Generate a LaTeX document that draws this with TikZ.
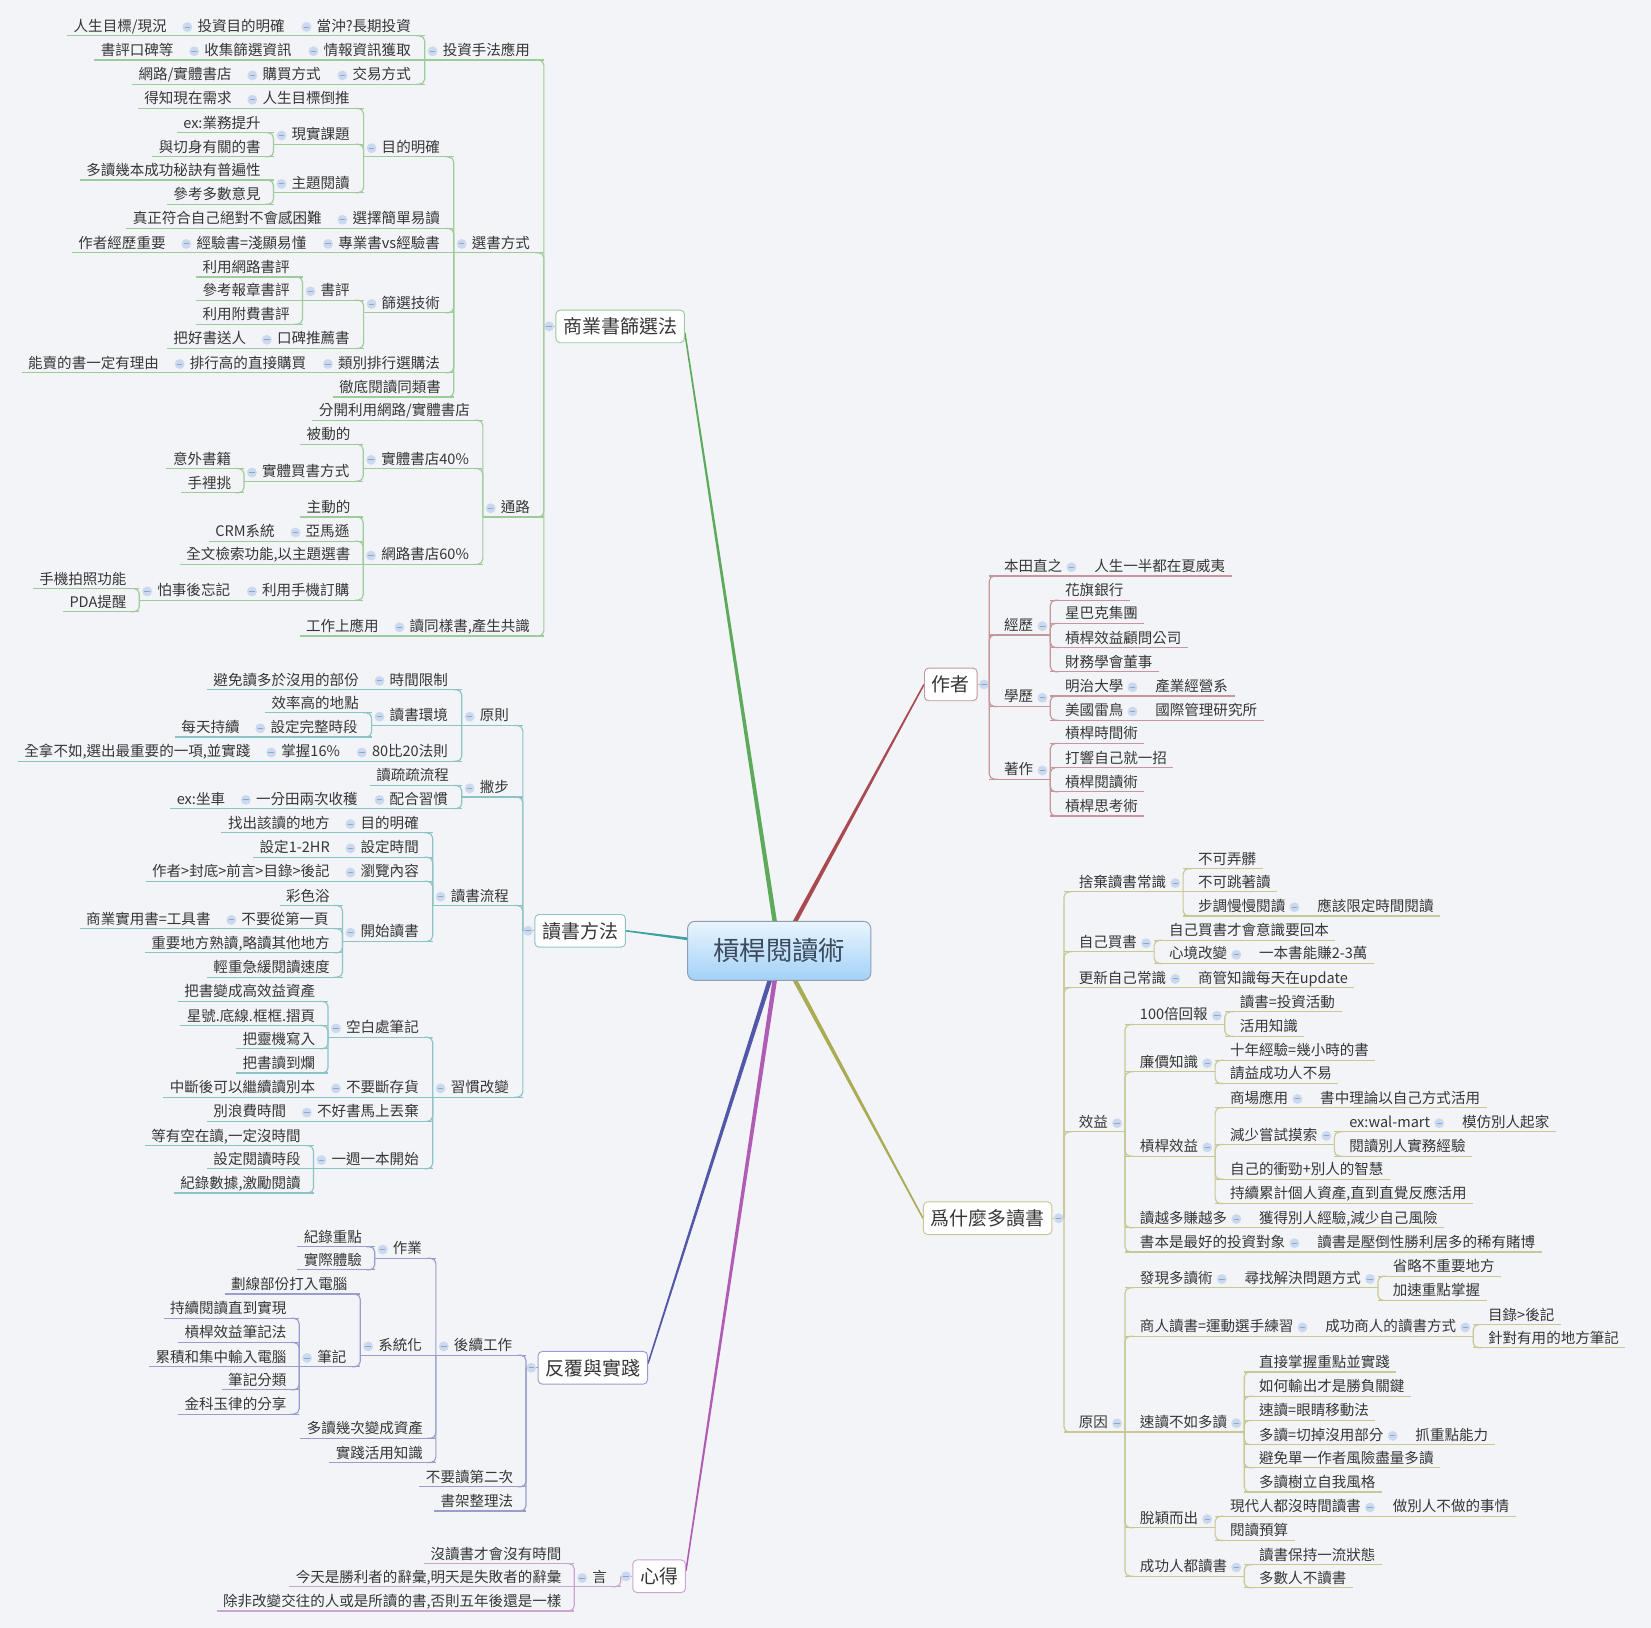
\documentclass[tikz,border=0pt]{standalone}
\usepackage{fontspec}
\setmainfont{Noto Sans CJK TC}
\usetikzlibrary{calc}

\definecolor{bgc}{HTML}{F3F4F8}
\definecolor{txc}{HTML}{363636}
\definecolor{hubd}{HTML}{8E9DB0}
\definecolor{hubt}{HTML}{EAF5FE}
\definecolor{hubb}{HTML}{A2D1F7}
\definecolor{hubx}{HTML}{3B4A5C}
\definecolor{mif}{HTML}{CBD9EF}
\definecolor{mim}{HTML}{8DA6CC}
\definecolor{thA}{HTML}{5DAA5A}\definecolor{ucA}{HTML}{9DCB99}
\definecolor{thB}{HTML}{3FA0A4}\definecolor{ucB}{HTML}{8CC4C6}
\definecolor{thC}{HTML}{5257A8}\definecolor{ucC}{HTML}{9A9DCB}
\definecolor{thD}{HTML}{B05CB4}\definecolor{ucD}{HTML}{CCA6CF}
\definecolor{thE}{HTML}{A84A50}\definecolor{ucE}{HTML}{C69799}
\definecolor{thF}{HTML}{A9AC55}\definecolor{ucF}{HTML}{C7C894}
\colorlet{uc}{ucA}

\pgfdeclarelayer{bg}
\pgfdeclarelayer{br}
\pgfsetlayers{bg,br,main}

\tikzset{
  tx/.style={font=\fontsize{13.8}{16}\selectfont, text=txc, inner xsep=0pt, inner ysep=1.1pt, text height=11pt, text depth=3pt},
  ul/.style={draw=uc, line width=1.1pt},
  cn/.style={draw=uc, line width=1.1pt, rounded corners=5pt},
  uline/.style={append after command={\pgfextra{\draw[ul] (\tikzlastnode.south west) -- (\tikzlastnode.south east);}}},
  minus/.style 2 args={append after command={\pgfextra{%
      \fill[mif] ([xshift=#2]\tikzlastnode.#1) circle (4.7pt);
      \draw[mim, line width=0.9pt] ([xshift=#2-2.6pt]\tikzlastnode.#1) -- ([xshift=#2+2.6pt]\tikzlastnode.#1);}}},
  lf/.style={tx, anchor=south east, execute at begin node={\hspace*{6pt}}, execute at end node={\hspace*{12pt}}, uline},
  lp/.style={tx, anchor=south east, execute at begin node={\hspace*{17pt}}, execute at end node={\hspace*{13pt}}, uline, minus={west}{7.5pt}},
  rf/.style={tx, anchor=south west, execute at begin node={\hspace*{14pt}}, execute at end node={\hspace*{6pt}}, uline},
  rp/.style={tx, anchor=south west, execute at begin node={\hspace*{14pt}}, execute at end node={\hspace*{16pt}}, uline, minus={east}{-7.5pt}},
  box/.style={draw=#1, fill=white, rounded corners=4pt, line width=0.9pt, font=\fontsize{18}{21}\selectfont, text=txc, inner xsep=7pt, inner ysep=0pt, minimum height=31pt},
  core/.style={draw=hubd, line width=0.9pt, rounded corners=7pt, top color=hubt, bottom color=hubb, minimum width=174pt, minimum height=56pt, font=\fontsize{25}{28}\selectfont, text=hubx},
}

% tapered main branch
\newcommand\tapr[3]{%
  \fill[#1] ($(#2)!2.2pt!90:(#3)$) -- ($(#3)!0.7pt!-90:(#2)$) -- ($(#3)!0.7pt!90:(#2)$) -- ($(#2)!2.2pt!-90:(#3)$) -- cycle;}

\begin{document}
\begin{tikzpicture}[x=1pt, y=-1pt]

\begin{pgfonlayer}{bg}
\fill[bgc] (0,0) rectangle (1568,1546);
\end{pgfonlayer}
\useasboundingbox (0,0) rectangle (1568,1546);

\node[core] (hub) at (740,903) {槓桿閱讀術};

% 商業書篩選法
\begin{scope}
\colorlet{uc}{ucA}
\node[box=ucA, minus={west}{-6pt}] (sx) at (589,310) {商業書篩選法};
\coordinate (sxs) at ([xshift=-11pt]sx.west);
\node[lp] (a1) at (sxs |- 0,57) {投資手法應用};
\node[lp] (a11) at (a1.south west |- 0,34) {當沖?長期投資};
\node[lp] (a111) at (a11.south west) {投資目的明確};
\node[lf] (a1111) at (a111.south west) {人生目標/現況};
\node[lp] (a12) at (a1.south west) {情報資訊獲取};
\node[lp] (a121) at (a12.south west) {收集篩選資訊};
\node[lf] (a1211) at (a121.south west) {書評口碑等};
\node[lp] (a13) at (a1.south west |- 0,80) {交易方式};
\node[lp] (a131) at (a13.south west) {購買方式};
\node[lf] (a1311) at (a131.south west) {網路/實體書店};
\node[lp] (a2) at (sxs |- 0,240) {選書方式};
\node[lp] (a21) at (a2.south west |- 0,149) {目的明確};
\node[lp] (a211) at (a21.south west |- 0,103) {人生目標倒推};
\node[lf] (a2111) at (a211.south west) {得知現在需求};
\node[lp] (a212) at (a21.south west |- 0,137) {現實課題};
\node[lf] (a2121) at (a212.south west |- 0,126) {ex:業務提升};
\node[lf] (a2122) at (a212.south west |- 0,149) {與切身有關的書};
\node[lp] (a213) at (a21.south west |- 0,183) {主題閱讀};
\node[lf] (a2131) at (a213.south west |- 0,171) {多讀幾本成功秘訣有普遍性};
\node[lf] (a2132) at (a213.south west |- 0,194) {參考多數意見};
\node[lp] (a22) at (a2.south west |- 0,217) {選擇簡單易讀};
\node[lf] (a221) at (a22.south west) {真正符合自己絕對不會感困難};
\node[lp] (a23) at (a2.south west) {專業書vs經驗書};
\node[lp] (a231) at (a23.south west) {經驗書=淺顯易懂};
\node[lf] (a2311) at (a231.south west) {作者經歷重要};
\node[lp] (a24) at (a2.south west |- 0,297) {篩選技術};
\node[lp] (a241) at (a24.south west |- 0,285) {書評};
\node[lf] (a2411) at (a241.south west |- 0,263) {利用網路書評};
\node[lf] (a2412) at (a241.south west) {參考報章書評};
\node[lf] (a2413) at (a241.south west |- 0,308) {利用附費書評};
\node[lp] (a242) at (a24.south west |- 0,331) {口碑推薦書};
\node[lf] (a2421) at (a242.south west) {把好書送人};
\node[lp] (a25) at (a2.south west |- 0,354) {類別排行選購法};
\node[lp] (a251) at (a25.south west) {排行高的直接購買};
\node[lf] (a2511) at (a251.south west) {能賣的書一定有理由};
\node[lf] (a26) at (a2.south west |- 0,377) {徹底閱讀同類書};
\node[lp] (a3) at (sxs |- 0,491) {通路};
\node[lf] (a31) at (a3.south west |- 0,399) {分開利用網路/實體書店};
\node[lp] (a32) at (a3.south west |- 0,445) {實體書店40\%};
\node[lf] (a321) at (a32.south west |- 0,422) {被動的};
\node[lp] (a322) at (a32.south west |- 0,457) {實體買書方式};
\node[lf] (a3221) at (a322.south west |- 0,445) {意外書籍};
\node[lf] (a3222) at (a322.south west |- 0,468) {手裡挑};
\node[lp] (a33) at (a3.south west |- 0,536) {網路書店60\%};
\node[lf] (a331) at (a33.south west |- 0,491) {主動的};
\node[lp] (a332) at (a33.south west |- 0,514) {亞馬遜};
\node[lf] (a3321) at (a332.south west) {CRM系統};
\node[lf] (a333) at (a33.south west) {全文檢索功能,以主題選書};
\node[lp] (a334) at (a33.south west |- 0,570) {利用手機訂購};
\node[lp] (a3341) at (a334.south west) {怕事後忘記};
\node[lf] (a33411) at (a3341.south west |- 0,559) {手機拍照功能};
\node[lf] (a33412) at (a3341.south west |- 0,581) {PDA提醒};
\node[lp] (a4) at (sxs |- 0,604) {讀同樣書,產生共識};
\node[lf] (a41) at (a4.south west) {工作上應用};

\foreach \c in {a1,a2,a3,a4}
  \draw[cn] (sxs) |- ([xshift=-8pt]\c.south east);
\foreach \p/\c in {a1/a11,a1/a13,a2/a21,a21/a211,a21/a212,a212/a2121,a212/a2122,a21/a213,a213/a2131,a213/a2132,
    a2/a22,a2/a24,a24/a241,a241/a2411,a241/a2413,a24/a242,a2/a25,a2/a26,a3/a31,a3/a32,a32/a321,a32/a322,
    a322/a3221,a322/a3222,a3/a33,a33/a331,a33/a332,a33/a334,a3341/a33411,a3341/a33412}
  \draw[cn] (\p.south west) |- ([xshift=-8pt]\c.south east);
\foreach \p/\c in {a11/a111,a111/a1111,a1/a12,a12/a121,a121/a1211,a13/a131,a131/a1311,a211/a2111,a22/a221,
    a2/a23,a23/a231,a231/a2311,a241/a2412,a242/a2421,a25/a251,a251/a2511,a332/a3321,a33/a333,a334/a3341,a4/a41}
  \draw[cn] (\p.south west) -- (\c.south east);
\end{scope}

% 讀書方法
\begin{scope}
\colorlet{uc}{ucB}
\node[box=ucB, minus={west}{-6pt}] (rd) at (551,884) {讀書方法};
\coordinate (rds) at ([xshift=-11pt]rd.west);
\node[lp] (b1) at (rds |- 0,689) {原則};
\node[lp] (b11) at (b1.south west |- 0,655) {時間限制};
\node[lf] (b111) at (b11.south west) {避免讀多於沒用的部份};
\node[lp] (b12) at (b1.south west) {讀書環境};
\node[lf] (b121) at (b12.south west |- 0,677) {效率高的地點};
\node[lp] (b122) at (b12.south west |- 0,700) {設定完整時段};
\node[lf] (b1221) at (b122.south west) {每天持續};
\node[lp] (b13) at (b1.south west |- 0,723) {80比20法則};
\node[lp] (b131) at (b13.south west) {掌握16\%};
\node[lf] (b1311) at (b131.south west) {全拿不如,選出最重要的一項,並實踐};
\node[lp] (b2) at (rds |- 0,757) {撇步};
\node[lf] (b21) at (b2.south west |- 0,746) {讀疏疏流程};
\node[lp] (b22) at (b2.south west |- 0,768) {配合習慣};
\node[lp] (b221) at (b22.south west) {一分田兩次收穫};
\node[lf] (b2211) at (b221.south west) {ex:坐車};
\node[lp] (b3) at (rds |- 0,860) {讀書流程};
\node[lp] (b31) at (b3.south west |- 0,791) {目的明確};
\node[lf] (b311) at (b31.south west) {找出該讀的地方};
\node[lp] (b32) at (b3.south west |- 0,814) {設定時間};
\node[lf] (b321) at (b32.south west) {設定1-2HR};
\node[lp] (b33) at (b3.south west |- 0,837) {瀏覽內容};
\node[lf] (b331) at (b33.south west) {作者>封底>前言>目錄>後記};
\node[lp] (b34) at (b3.south west |- 0,894) {開始讀書};
\node[lf] (b341) at (b34.south west |- 0,860) {彩色浴};
\node[lp] (b342) at (b34.south west |- 0,882) {不要從第一頁};
\node[lf] (b3421) at (b342.south west) {商業實用書=工具書};
\node[lf] (b343) at (b34.south west |- 0,905) {重要地方熟讀,略讀其他地方};
\node[lf] (b344) at (b34.south west |- 0,928) {輕重急緩閱讀速度};
\node[lp] (b4) at (rds |- 0,1042) {習慣改變};
\node[lp] (b41) at (b4.south west |- 0,985) {空白處筆記};
\node[lf] (b411) at (b41.south west |- 0,951) {把書變成高效益資產};
\node[lf] (b412) at (b41.south west |- 0,974) {星號.底線.框框.摺頁};
\node[lf] (b413) at (b41.south west |- 0,996) {把靈機寫入};
\node[lf] (b414) at (b41.south west |- 0,1019) {把書讀到爛};
\node[lp] (b42) at (b4.south west) {不要斷存貨};
\node[lf] (b421) at (b42.south west) {中斷後可以繼續讀別本};
\node[lp] (b43) at (b4.south west |- 0,1065) {不好書馬上丟棄};
\node[lf] (b431) at (b43.south west) {別浪費時間};
\node[lp] (b44) at (b4.south west |- 0,1110) {一週一本開始};
\node[lf] (b441) at (b44.south west |- 0,1088) {等有空在讀,一定沒時間};
\node[lf] (b442) at (b44.south west) {設定閱讀時段};
\node[lf] (b443) at (b44.south west |- 0,1133) {紀錄數據,激勵閱讀};

\foreach \c in {b1,b2,b3,b4}
  \draw[cn] (rds) |- ([xshift=-8pt]\c.south east);
\foreach \p/\c in {b1/b11,b1/b13,b12/b121,b12/b122,b2/b21,b2/b22,b3/b31,b3/b32,b3/b33,b3/b34,b34/b341,b34/b342,
    b34/b343,b34/b344,b4/b41,b41/b411,b41/b412,b41/b413,b41/b414,b4/b43,b4/b44,b44/b441,b44/b443}
  \draw[cn] (\p.south west) |- ([xshift=-8pt]\c.south east);
\foreach \p/\c in {b11/b111,b1/b12,b122/b1221,b13/b131,b131/b1311,b22/b221,b221/b2211,b31/b311,b32/b321,
    b33/b331,b342/b3421,b4/b42,b42/b421,b43/b431,b44/b442}
  \draw[cn] (\p.south west) -- (\c.south east);
\end{scope}

% 反覆與實踐
\begin{scope}
\colorlet{uc}{ucC}
\node[box=ucC, minus={west}{-6pt}] (fs) at (563,1299) {反覆與實踐};
\coordinate (fss) at ([xshift=-11pt]fs.west);
\node[lp] (c1) at (fss |- 0,1287) {後續工作};
\node[lp] (c11) at (c1.south west |- 0,1195) {作業};
\node[lf] (c111) at (c11.south west |- 0,1184) {紀錄重點};
\node[lf] (c112) at (c11.south west |- 0,1206) {實際體驗};
\node[lp] (c12) at (c1.south west) {系統化};
\node[lf] (c121) at (c12.south west |- 0,1229) {劃線部份打入電腦};
\node[lp] (c122) at (c12.south west |- 0,1298) {筆記};
\node[lf] (c1221) at (c122.south west |- 0,1252) {持續閱讀直到實現};
\node[lf] (c1222) at (c122.south west |- 0,1275) {槓桿效益筆記法};
\node[lf] (c1223) at (c122.south west) {累積和集中輸入電腦};
\node[lf] (c1224) at (c122.south west |- 0,1320) {筆記分類};
\node[lf] (c1225) at (c122.south west |- 0,1343) {金科玉律的分享};
\node[lf] (c13) at (c1.south west |- 0,1366) {多讀幾次變成資產};
\node[lf] (c14) at (c1.south west |- 0,1389) {實踐活用知識};
\node[lf] (c2) at (fss |- 0,1412) {不要讀第二次};
\node[lf] (c3) at (fss |- 0,1435) {書架整理法};

\foreach \c in {c1,c2,c3}
  \draw[cn] (fss) |- ([xshift=-8pt]\c.south east);
\foreach \p/\c in {c1/c11,c1/c13,c1/c14,c11/c111,c11/c112,c12/c121,c12/c122,c122/c1221,c122/c1222,c122/c1224,c122/c1225}
  \draw[cn] (\p.south west) |- ([xshift=-8pt]\c.south east);
\foreach \p/\c in {c1/c12,c122/c1223}
  \draw[cn] (\p.south west) -- (\c.south east);
\end{scope}

% 心得
\begin{scope}
\colorlet{uc}{ucD}
\node[box=ucD, minus={west}{-6pt}] (xd) at (626,1497) {心得};
\coordinate (xds) at ([xshift=-11pt]xd.west);
\node[lp] (d1) at (xds |- 0,1507) {言};
\node[lf] (d11) at (d1.south west |- 0,1485) {沒讀書才會沒有時間};
\node[lf] (d12) at (d1.south west) {今天是勝利者的辭彙,明天是失敗者的辭彙};
\node[lf] (d13) at (d1.south west |- 0,1530) {除非改變交往的人或是所讀的書,否則五年後還是一樣};

\draw[cn] (xds) |- ([xshift=-8pt]d1.south east);
\foreach \c in {d11,d13}
  \draw[cn] (d1.south west) |- ([xshift=-8pt]\c.south east);
\draw[cn] (d1.south west) -- (d12.south east);
\end{scope}

% 作者
\begin{scope}
\colorlet{uc}{ucE}
\node[box=ucE, minus={east}{6pt}] (zz) at (903,650) {作者};
\coordinate (zzs) at ([xshift=11pt]zz.east);
\node[rp] (e1) at (zzs |- 0,547) {本田直之};
\node[rf] (e11) at (e1.south east) {人生一半都在夏威夷};
\node[rp] (e2) at (zzs |- 0,603) {經歷};
\node[rf] (e21) at (e2.south east |- 0,570) {花旗銀行};
\node[rf] (e22) at (e2.south east |- 0,592) {星巴克集團};
\node[rf] (e23) at (e2.south east |- 0,615) {槓桿效益顧問公司};
\node[rf] (e24) at (e2.south east |- 0,638) {財務學會董事};
\node[rp] (e3) at (zzs |- 0,671) {學歷};
\node[rp] (e31) at (e3.south east |- 0,661) {明治大學};
\node[rf] (e311) at (e31.south east) {產業經營系};
\node[rp] (e32) at (e3.south east |- 0,684) {美國雷鳥};
\node[rf] (e321) at (e32.south east) {國際管理研究所};
\node[rp] (e4) at (zzs |- 0,740) {著作};
\node[rf] (e41) at (e4.south east |- 0,706) {槓桿時間術};
\node[rf] (e42) at (e4.south east |- 0,729) {打響自己就一招};
\node[rf] (e43) at (e4.south east |- 0,752) {槓桿閱讀術};
\node[rf] (e44) at (e4.south east |- 0,775) {槓桿思考術};

\foreach \c in {e1,e2,e3,e4}
  \draw[cn] (zzs) |- ([xshift=8pt]\c.south west);
\foreach \p/\c in {e2/e21,e2/e22,e2/e23,e2/e24,e3/e31,e3/e32,e4/e41,e4/e42,e4/e43,e4/e44}
  \draw[cn] (\p.south east) |- ([xshift=8pt]\c.south west);
\foreach \p/\c in {e1/e11,e31/e311,e32/e321}
  \draw[cn] (\p.south east) -- (\c.south west);
\end{scope}

% 爲什麼多讀書
\begin{scope}
\colorlet{uc}{ucF}
\node[box=ucF, minus={east}{6pt}] (wy) at (938,1157) {爲什麼多讀書};
\coordinate (wys) at ([xshift=11pt]wy.east);
\node[rp] (f1) at (wys |- 0,847) {捨棄讀書常識};
\node[rf] (f11) at (f1.south east |- 0,825) {不可弄髒};
\node[rf] (f12) at (f1.south east) {不可跳著讀};
\node[rp] (f13) at (f1.south east |- 0,870) {步調慢慢閱讀};
\node[rf] (f131) at (f13.south east) {應該限定時間閱讀};
\node[rp] (f2) at (wys |- 0,904) {自己買書};
\node[rf] (f21) at (f2.south east |- 0,893) {自己買書才會意識要回本};
\node[rp] (f22) at (f2.south east |- 0,915) {心境改變};
\node[rf] (f221) at (f22.south east) {一本書能賺2-3萬};
\node[rp] (f3) at (wys |- 0,938) {更新自己常識};
\node[rf] (f31) at (f3.south east) {商管知識每天在update};
\node[rp] (f4) at (wys |- 0,1075) {效益};
\node[rp] (f41) at (f4.south east |- 0,973) {100倍回報};
\node[rf] (f411) at (f41.south east |- 0,961) {讀書=投資活動};
\node[rf] (f412) at (f41.south east |- 0,984) {活用知識};
\node[rp] (f42) at (f4.south east |- 0,1018) {廉價知識};
\node[rf] (f421) at (f42.south east |- 0,1007) {十年經驗=幾小時的書};
\node[rf] (f422) at (f42.south east |- 0,1029) {請益成功人不易};
\node[rp] (f43) at (f4.south east |- 0,1098) {槓桿效益};
\node[rp] (f431) at (f43.south east |- 0,1052) {商場應用};
\node[rf] (f4311) at (f431.south east) {書中理論以自己方式活用};
\node[rp] (f432) at (f43.south east |- 0,1087) {減少嘗試摸索};
\node[rp] (f4321) at (f432.south east |- 0,1075) {ex:wal-mart};
\node[rf] (f43211) at (f4321.south east) {模仿別人起家};
\node[rf] (f4322) at (f432.south east |- 0,1098) {閱讀別人實務經驗};
\node[rf] (f433) at (f43.south east |- 0,1120) {自己的衝勁+別人的智慧};
\node[rf] (f434) at (f43.south east |- 0,1143) {持續累計個人資產,直到直覺反應活用};
\node[rp] (f44) at (f4.south east |- 0,1166) {讀越多賺越多};
\node[rf] (f441) at (f44.south east) {獲得別人經驗,減少自己風險};
\node[rp] (f45) at (f4.south east |- 0,1189) {書本是最好的投資對象};
\node[rf] (f451) at (f45.south east) {讀書是壓倒性勝利居多的稀有賭博};
\node[rp] (f5) at (wys |- 0,1360) {原因};
\node[rp] (f51) at (f5.south east |- 0,1223) {發現多讀術};
\node[rp] (f511) at (f51.south east) {尋找解決問題方式};
\node[rf] (f5111) at (f511.south east |- 0,1212) {省略不重要地方};
\node[rf] (f5112) at (f511.south east |- 0,1235) {加速重點掌握};
\node[rp] (f52) at (f5.south east |- 0,1269) {商人讀書=運動選手練習};
\node[rp] (f521) at (f52.south east) {成功商人的讀書方式};
\node[rf] (f5211) at (f521.south east |- 0,1258) {目錄>後記};
\node[rf] (f5212) at (f521.south east |- 0,1280) {針對有用的地方筆記};
\node[rp] (f53) at (f5.south east) {速讀不如多讀};
\node[rf] (f531) at (f53.south east |- 0,1303) {直接掌握重點並實踐};
\node[rf] (f532) at (f53.south east |- 0,1326) {如何輸出才是勝負關鍵};
\node[rf] (f533) at (f53.south east |- 0,1349) {速讀=眼睛移動法};
\node[rp] (f534) at (f53.south east |- 0,1372) {多讀=切掉沒用部分};
\node[rf] (f5341) at (f534.south east) {抓重點能力};
\node[rf] (f535) at (f53.south east |- 0,1394) {避免單一作者風險盡量多讀};
\node[rf] (f536) at (f53.south east |- 0,1417) {多讀樹立自我風格};
\node[rp] (f54) at (f5.south east |- 0,1451) {脫穎而出};
\node[rp] (f541) at (f54.south east |- 0,1440) {現代人都沒時間讀書};
\node[rf] (f5411) at (f541.south east) {做別人不做的事情};
\node[rf] (f542) at (f54.south east |- 0,1463) {閱讀預算};
\node[rp] (f55) at (f5.south east |- 0,1497) {成功人都讀書};
\node[rf] (f551) at (f55.south east |- 0,1486) {讀書保持一流狀態};
\node[rf] (f552) at (f55.south east |- 0,1508) {多數人不讀書};

\foreach \c in {f1,f2,f3,f4,f5}
  \draw[cn] (wys) |- ([xshift=8pt]\c.south west);
\foreach \p/\c in {f1/f11,f1/f13,f2/f21,f2/f22,f4/f41,f4/f42,f4/f43,f4/f44,f4/f45,f41/f411,f41/f412,f42/f421,f42/f422,
    f43/f431,f43/f432,f43/f433,f43/f434,f432/f4321,f432/f4322,f5/f51,f5/f52,f5/f54,f5/f55,f511/f5111,f511/f5112,
    f521/f5211,f521/f5212,f53/f531,f53/f532,f53/f533,f53/f534,f53/f535,f53/f536,f54/f541,f54/f542,f55/f551,f55/f552}
  \draw[cn] (\p.south east) |- ([xshift=8pt]\c.south west);
\foreach \p/\c in {f1/f12,f13/f131,f22/f221,f3/f31,f431/f4311,f4321/f43211,f44/f441,f45/f451,f51/f511,f52/f521,
    f5/f53,f534/f5341,f541/f5411}
  \draw[cn] (\p.south east) -- (\c.south west);
\end{scope}

\begin{pgfonlayer}{br}
\tapr{thA}{hub}{[yshift=-6pt]sx.east}
\tapr{thB}{hub}{rd.east}
\tapr{thC}{hub}{[yshift=4pt]fs.east}
\tapr{thD}{hub}{[yshift=5pt]xd.east}
\tapr{thE}{hub}{zz.west}
\tapr{thF}{hub}{wy.west}
\draw[ucA, line width=1.1pt] (sxs) -- (sx.west);
\draw[ucB, line width=1.1pt] (rds) -- (rd.west);
\draw[ucC, line width=1.1pt] (fss) -- (fs.west);
\draw[ucD, line width=1.1pt] (xds) -- (xd.west);
\draw[ucE, line width=1.1pt] (zzs) -- (zz.east);
\draw[ucF, line width=1.1pt] (wys) -- (wy.east);
\end{pgfonlayer}

\end{tikzpicture}
\end{document}
